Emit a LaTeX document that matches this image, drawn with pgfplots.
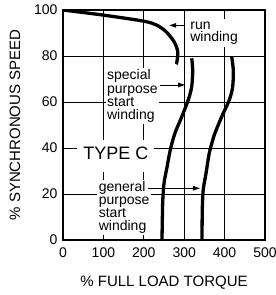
\documentclass[border=0pt]{standalone}
\usepackage{fontspec}
\setmainfont{Liberation Sans}
\usepackage{pgfplots}
\pgfplotsset{compat=1.18}
\usetikzlibrary{arrows.meta}
\begin{document}
\begin{tikzpicture}
\path[use as bounding box] (-63pt,-55pt) rectangle (213pt,240pt);
\begin{axis}[
  at={(0,0)}, anchor=south west,
  scale only axis, width=202pt, height=230pt,
  xmin=0, xmax=500, ymin=0, ymax=100,
  xtick={0,100,...,500}, ytick={0,20,...,100},
  grid=major, major grid style={black, line width=0.6pt},
  axis line style={line width=1.1pt},
  major tick length=0pt,
  /pgf/number format/assume math mode=true,
  tick label style={font=\fontsize{14}{14}\selectfont},
  xticklabel style={yshift=-4pt},
  yticklabel style={xshift=-2pt},
  every axis x label/.style={at={(axis description cs:0.5,-0.187)}, anchor=center},
  every axis y label/.style={at={(axis description cs:-0.238,0.5)}, anchor=center, rotate=90},
  label style={font=\fontsize{15}{15}\selectfont},
  xlabel={\% FULL LOAD TORQUE},
  ylabel={\% SYNCHRONOUS SPEED},
]
\addplot[black, line width=3.3pt, smooth] coordinates {
 (0,100) (99,97.8) (198,95.2) (231,93.5) (255,90.6) (275,86.2) (284,81.9) (282,77.5) (280,76.5)};
\addplot[black, line width=3.3pt, smooth] coordinates {
 (245,0) (246,10) (247,17.4) (250,24.6) (257.7,31.9) (266,39.5) (277,46.4) (294,53.6) (310,60.9) (318.6,66.7) (321,73.9) (318.6,79)};
\addplot[black, line width=3.3pt, smooth] coordinates {
 (344,0) (344.5,10) (345,14.5) (347,21.7) (354,29) (362,37.7) (370,43) (376,46.4) (392.8,53.6) (411.7,60.9) (420,66.7) (421.5,73.9) (417.6,79.7)};
% labels
\node[fill=white, anchor=west, align=left, inner xsep=1.5pt, inner ysep=3pt,
      font=\fontsize{14}{12.5}\selectfont] at (axis cs:311,90) {run\\winding};
\node[fill=white, anchor=west, align=left, inner xsep=1.5pt, inner ysep=2pt,
      font=\fontsize{14}{13.2}\selectfont] at (axis cs:105,62.6) {special\\purpose\\start\\winding};
\node[fill=white, anchor=west, align=left, inner xsep=1.5pt, inner ysep=1.5pt,
      font=\fontsize{14}{13}\selectfont] at (axis cs:84.5,14.3) {general\\purpose\\start\\winding};
\node[fill=white, anchor=base, inner xsep=6pt, inner ysep=0pt, text height=19pt, text depth=12.7pt,
      font=\fontsize{18}{18}\selectfont] at (axis cs:131,35.2) {TYPE C};
% arrows
\draw[line width=0.8pt, -{Triangle[length=7pt,width=4.5pt]}] (axis cs:302,93.3) -- (axis cs:263,93.3);
\draw[line width=0.8pt, -{Triangle[length=7pt,width=4.5pt]}] (axis cs:240,67.4) -- (axis cs:302,67.4);
\draw[line width=0.8pt, -{Triangle[length=7pt,width=4.5pt]}] (axis cs:210,22.5) -- (axis cs:339,22.5);
\end{axis}
\end{tikzpicture}
\end{document}
